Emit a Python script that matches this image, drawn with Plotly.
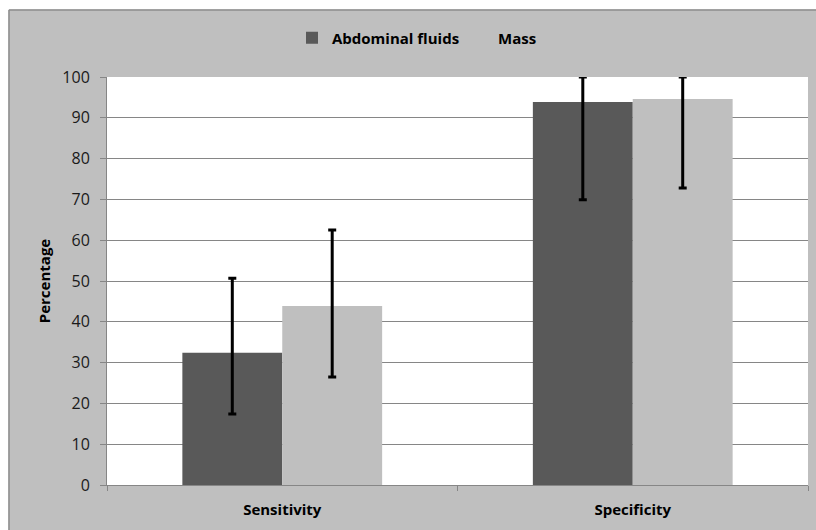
import plotly.graph_objects as go

categories = ["Sensitivity", "Specificity"]
series_names = ["Abdominal fluids", "Mass"]
abdominal = [32.4, 93.9]
abdominal_hi = [50.7, 100.0]
abdominal_lo = [17.4, 69.9]
mass = [43.9, 94.6]
mass_hi = [62.5, 100.0]
mass_lo = [26.5, 72.8]
y_ticks = [0, 10, 20, 30, 40, 50, 60, 70, 80, 90, 100]

FONT = "Open Sans"
fig = go.Figure()
for name, vals, hi, lo, col in [
    (series_names[0], abdominal, abdominal_hi, abdominal_lo, "#595959"),
    (series_names[1], mass, mass_hi, mass_lo, "#BFBFBF"),
]:
    fig.add_trace(go.Bar(
        x=categories, y=vals, name=name,
        marker=dict(color=col, line=dict(width=0)),
        error_y=dict(type="data", symmetric=False,
                     array=[h - v for h, v in zip(hi, vals)],
                     arrayminus=[v - l for v, l in zip(vals, lo)],
                     color="black", thickness=3, width=4),
    ))

W, H = 816, 530
L, R, T, B = 107, 808, 77, 485
pw, ph = R - L, B - T

def px(x):
    return (x - L) / pw

def py(y):
    return (B - y) / ph

shapes = [
    dict(type="rect", xref="paper", yref="paper", x0=px(-5), x1=px(W + 5), y0=py(-5), y1=py(9.5),
         fillcolor="white", line=dict(width=0), layer="above"),
    dict(type="rect", xref="paper", yref="paper", x0=px(-5), x1=px(8.5), y0=py(-5), y1=py(H + 5),
         fillcolor="white", line=dict(width=0), layer="above"),
    dict(type="line", xref="paper", yref="paper", x0=px(9), x1=px(W + 5), y0=py(10), y1=py(10),
         line=dict(color="#8C8C8C", width=1.5), layer="above"),
    dict(type="line", xref="paper", yref="paper", x0=px(9), x1=px(9), y0=py(10), y1=py(H + 5),
         line=dict(color="#8C8C8C", width=1.5), layer="above"),
]

fig.update_layout(
    width=W, height=H,
    margin=dict(l=L, r=W - R, t=T, b=H - B, autoexpand=False),
    paper_bgcolor="#BFBFBF", plot_bgcolor="white",
    barmode="group", bargap=0.43, bargroupgap=0,
    font=dict(family=FONT, size=15, color="#1a1a1a"),
    showlegend=True,
    legend=dict(orientation="h", x=292 / W, xanchor="left", xref="container",
                y=1 - 38 / H, yanchor="middle", yref="container",
                entrywidth=121, entrywidthmode="pixels",
                font=dict(family=FONT, size=15, color="black", weight="bold"),
                bgcolor="rgba(0,0,0,0)", traceorder="normal"),
    shapes=shapes,
    xaxis=dict(showgrid=False, showline=True, linecolor="#868686", linewidth=1,
               ticks="outside", tickson="boundaries", ticklen=5, tickcolor="#868686",
               automargin=False, ticklabelstandoff=11,
               tickfont=dict(family=FONT, size=15, color="black", weight="bold")),
    yaxis=dict(range=[0, 100], tickvals=y_ticks, showgrid=True, gridcolor="#868686",
               gridwidth=1, showline=True, linecolor="#868686", linewidth=1,
               ticks="outside", ticklen=6, tickcolor="#868686", zeroline=False,
               automargin=False, ticklabelstandoff=7,
               tickfont=dict(family=FONT, size=16, color="#1a1a1a"),
               title=dict(text="Percentage", standoff=8,
                          font=dict(family=FONT, size=15, color="black", weight="bold"))),
)
fig.write_html("out.html", config={"displayModeBar": False},
               post_script="document.documentElement.style.overflow='hidden';"
                           "document.body.style.overflow='hidden';"
                           "document.body.style.margin='0';")
